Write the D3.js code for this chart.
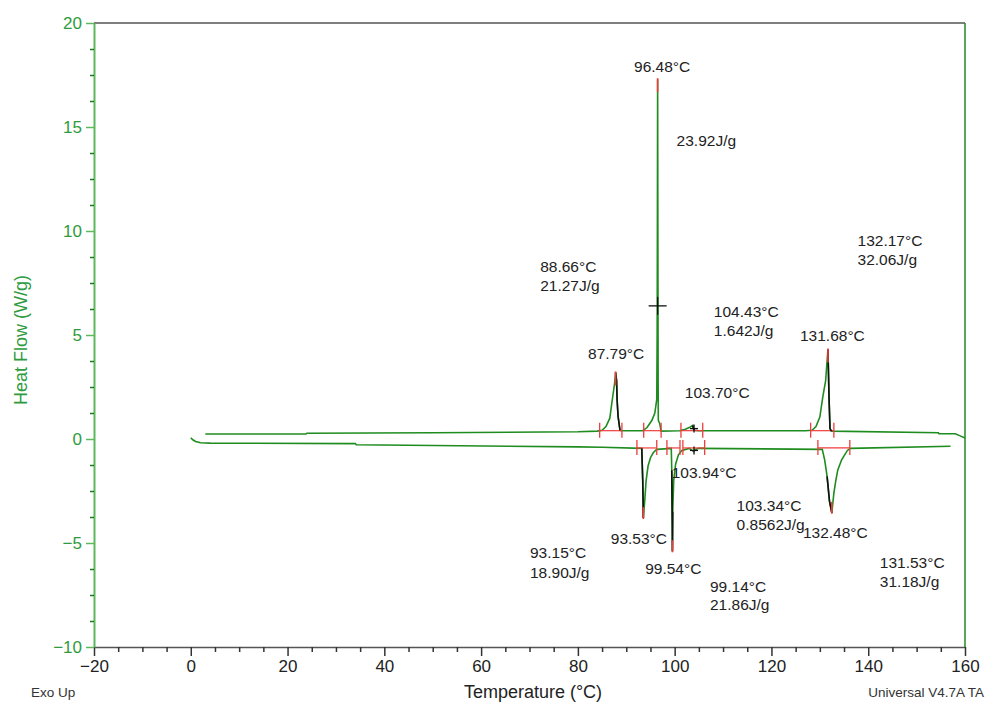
<!DOCTYPE html>
<html>
<head>
<meta charset="utf-8">
<style>
  body { margin: 0; background: #fff; }
  svg { display: block; font-family: "Liberation Sans", Arial, sans-serif; }
</style>
</head>
<body>
<svg></svg>
<script src="https://d3js.org/d3.v7.min.js"></script>
<script>

// upper curve (exo peaks), temperature in °C and heat flow in W/g
var upperT = [3, 23.8, 24, 50, 80, 84, 85, 85.8, 86.6, 87.0, 87.3, 87.6, 87.79, 88.0, 88.1, 88.3, 88.7, 89, 93.4, 94.3, 95.3, 95.9, 96.3, 96.38, 96.43, 96.48,
  96.53, 96.58, 96.62, 96.9, 97.2, 101, 102, 103, 103.7, 104, 105, 127, 128.4, 129.2, 130.0, 130.6, 131.2, 131.45, 131.68, 131.9, 132.1, 132.4, 154.5, 154.6, 158, 159, 160];
var upperV = [0.24, 0.24, 0.28, 0.3, 0.35, 0.38, 0.42, 0.6, 1.0, 1.7, 2.2, 2.7, 3.2, 2.8, 1.9, 1.1, 0.42, 0.4, 0.4, 0.55, 0.9, 1.25, 1.9, 5, 10, 17.3,
  10, 3, 0.9, 0.75, 0.38, 0.4, 0.45, 0.55, 0.65, 0.42, 0.4, 0.4, 0.42, 0.6, 1.05, 2.0, 2.8, 3.6, 4.3, 2.0, 0.5, 0.38, 0.3, 0.25, 0.25, 0.15, 0.05];

// lower curve (endo peaks)
var lowerT = [0, 0.5, 1, 2, 4, 34, 34.2, 80, 85, 93.2, 93.4, 93.53, 93.8, 94.1, 94.5, 95.0, 95.6, 96.3, 99.3, 99.4, 99.5, 99.54, 99.6, 99.8, 100.2, 100.8, 101.5, 103,
  103.6, 103.94, 104.3, 105, 130.5, 131.0, 131.5, 132.0, 132.48, 132.9, 133.3, 133.7, 134.5, 135.7, 136.3, 157];
var lowerV = [0.05, -0.05, -0.12, -0.18, -0.2, -0.22, -0.28, -0.38, -0.4, -0.45, -2, -3.8, -3.0, -2.0, -1.3, -0.9, -0.65, -0.5, -0.45, -1.5, -4, -5.4, -3.5, -2.0, -1.2, -0.75, -0.55, -0.45,
  -0.55, -0.6, -0.5, -0.45, -0.5, -1.0, -1.8, -3.0, -3.55, -2.6, -2.0, -1.5, -1.0, -0.55, -0.45, -0.35];

// integration limits [start, end, baseline] per curve
var upperLimits = [[84.5, 89.1, 0.4], [93.6, 97.2, 0.4], [101.3, 105.8, 0.4], [128.1, 132.9, 0.4]];
var lowerLimits = [[92.2, 96.3, -0.43], [98.4, 101.1, -0.43], [101.7, 106.2, -0.43], [129.6, 136.2, -0.43]];

// peak tips [T, value]
var peakTips = [[87.79, 3.2], [96.48, 17.3], [131.68, 4.3], [93.53, -3.8], [99.54, -5.4], [132.48, -3.55]];

// curve portions drawn black [curve, T from, T to]
var blackSegs = [["u", 87.79, 88.7], ["u", 103.7, 104.0], ["u", 131.68, 132.4], ["l", 93.2, 93.53], ["l", 99.4, 99.6], ["l", 103.8, 104.0], ["l", 131.5, 132.48]];

// crosses [T, value, size]
var crosses = [[96.48, 6.4, 9], [104.0, 0.5, 4], [104.0, -0.55, 4]];

// text labels [text, T, value] (text anchor start, baseline)
var labels = [
  ["96.48°C", 91.6, 17.64], ["23.92J/g", 100.4, 14.09],
  ["88.66°C", 72.2, 8.03], ["21.27J/g", 72.2, 7.12],
  ["104.43°C", 108.1, 5.87], ["1.642J/g", 108.1, 4.95],
  ["132.17°C", 137.8, 9.28], ["32.06J/g", 137.8, 8.37],
  ["87.79°C", 82.1, 3.85], ["131.68°C", 125.9, 4.71],
  ["103.70°C", 102.1, 1.97], ["103.94°C", 99.4, -1.88],
  ["103.34°C", 112.8, -3.46], ["0.8562J/g", 112.8, -4.38],
  ["132.48°C", 126.5, -4.76], ["93.53°C", 86.8, -5.05],
  ["93.15°C", 70.1, -5.72], ["18.90J/g", 70.1, -6.68],
  ["99.54°C", 93.9, -6.49],
  ["99.14°C", 107.3, -7.36], ["21.86J/g", 107.3, -8.22],
  ["131.53°C", 142.4, -6.20], ["31.18J/g", 142.4, -7.12]
];

var xTicks = d3.range(-20, 161, 20);
var yTicks = d3.range(-10, 21, 5);

var width = 987, height = 704;
var green = "#1f8c1f";

var svg = d3.select("svg").attr("width", width).attr("height", height);

var x = d3.scaleLinear().domain([-20, 160]).range([94, 965]);
var y = d3.scaleLinear().domain([-10, 20]).range([647, 23]);

// frame: top and right
svg.append("line").attr("x1", 94).attr("x2", 965).attr("y1", 23).attr("y2", 23)
  .attr("stroke", "#555").attr("stroke-width", 1.5);
svg.append("line").attr("x1", 965).attr("x2", 965).attr("y1", 23).attr("y2", 647)
  .attr("stroke", green).attr("stroke-width", 1.5);

// axes
var xAxis = svg.append("g").attr("transform", "translate(0,647)")
  .call(d3.axisBottom(x).tickValues(xTicks).tickSize(9).tickSizeOuter(0).tickPadding(4));
var xMinor = svg.append("g").attr("transform", "translate(0,647)")
  .call(d3.axisBottom(x).tickValues(d3.range(-20, 161, 5).filter(d => d % 20 != 0)).tickSize(5).tickFormat(""))
  .call(g => g.select(".domain").remove());
xAxis.select(".domain").attr("stroke", "#555").attr("stroke-width", 1.5);
xAxis.selectAll(".tick line").attr("stroke", "#333").attr("stroke-width", 1.5);
xMinor.selectAll(".tick line").attr("stroke", "#333").attr("stroke-width", 1.5);
xAxis.selectAll("text").attr("font-size", 17).attr("fill", "#222");

var yAxis = svg.append("g").attr("transform", "translate(94,0)")
  .call(d3.axisLeft(y).tickValues(yTicks).tickSize(8).tickSizeOuter(0).tickPadding(4));
var yMinor = svg.append("g").attr("transform", "translate(94,0)")
  .call(d3.axisLeft(y).tickValues(d3.range(-10, 20.01, 1.25).filter(d => d % 5 != 0)).tickSize(4).tickFormat(""))
  .call(g => g.select(".domain").remove());
yAxis.select(".domain").attr("stroke", "#5cb85c").attr("stroke-width", 2);
yAxis.selectAll(".tick line").attr("stroke", "#5cb85c").attr("stroke-width", 1.5);
yMinor.selectAll(".tick line").attr("stroke", "#1f7a1f").attr("stroke-width", 1.5);
yAxis.selectAll("text").attr("font-size", 17).attr("fill", "#2e9b3e");

// axis titles
svg.append("text").attr("x", 533).attr("y", 698).attr("text-anchor", "middle")
  .attr("font-size", 18).attr("fill", "#222").text("Temperature (°C)");
svg.append("text").attr("transform", "translate(27,340) rotate(-90)").attr("text-anchor", "middle")
  .attr("font-size", 18).attr("fill", "#2e9b3e").text("Heat Flow (W/g)");
svg.append("text").attr("x", 31).attr("y", 697).attr("font-size", 13.5).attr("fill", "#333").text("Exo Up");
svg.append("text").attr("x", 984).attr("y", 697).attr("text-anchor", "end")
  .attr("font-size", 13.5).attr("fill", "#333").text("Universal V4.7A TA");

var upper = upperT.map((t, i) => [t, upperV[i]]);
var lower = lowerT.map((t, i) => [t, lowerV[i]]);
var line = d3.line().x(d => x(d[0])).y(d => y(d[1]));

svg.append("path").datum(upper).attr("d", line).attr("fill", "none").attr("stroke", green).attr("stroke-width", 1.6);
svg.append("path").datum(lower).attr("d", line).attr("fill", "none").attr("stroke", green).attr("stroke-width", 1.6);

// integration limits
var limits = upperLimits.concat(lowerLimits);
svg.selectAll(".base").data(limits).join("line")
  .attr("x1", d => x(d[0])).attr("x2", d => x(d[1]))
  .attr("y1", d => y(d[2])).attr("y2", d => y(d[2]))
  .attr("stroke", "#f03c3c").attr("stroke-width", 1.2);
svg.selectAll(".limt").data(limits.flatMap(d => [[d[0], d[2]], [d[1], d[2]]])).join("line")
  .attr("x1", d => x(d[0])).attr("x2", d => x(d[0]))
  .attr("y1", d => y(d[1]) - 8).attr("y2", d => y(d[1]) + 7)
  .attr("stroke", "#f03c3c").attr("stroke-width", 1.3);

// black portions
blackSegs.forEach(function(s) {
  var src = s[0] == "u" ? upper : lower;
  var pts = src.filter(d => d[0] >= s[1] - 1e-9 && d[0] <= s[2] + 1e-9);
  svg.append("path").datum(pts).attr("d", line).attr("fill", "none").attr("stroke", "#111").attr("stroke-width", 1.6);
});

// red peak tips
svg.selectAll(".tip").data(peakTips).join("line")
  .attr("x1", d => x(d[0])).attr("x2", d => x(d[0]))
  .attr("y1", d => y(d[1]) + (d[1] > 0 ? -1 : 1)).attr("y2", d => y(d[1]) + (d[1] > 0 ? 13 : -11))
  .attr("stroke", "#f03c3c").attr("stroke-width", 1.6);

// crosses
crosses.forEach(function(c) {
  svg.append("line").attr("x1", x(c[0]) - c[2]).attr("x2", x(c[0]) + c[2]).attr("y1", y(c[1])).attr("y2", y(c[1]))
    .attr("stroke", "#111").attr("stroke-width", 1.3);
  svg.append("line").attr("x1", x(c[0])).attr("x2", x(c[0])).attr("y1", y(c[1]) - c[2]).attr("y2", y(c[1]) + c[2])
    .attr("stroke", "#111").attr("stroke-width", 1.3);
});

// labels
svg.selectAll(".lab").data(labels).join("text")
  .attr("x", d => x(d[1])).attr("y", d => y(d[2]))
  .attr("font-size", 15.5).attr("fill", "#222")
  .text(d => d[0]);

</script>
</body>
</html>
